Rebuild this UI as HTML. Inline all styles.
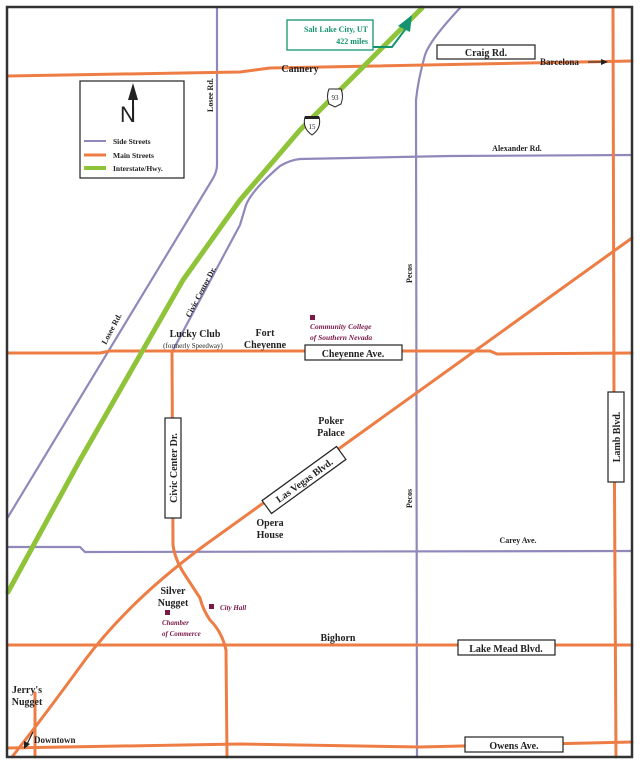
<!DOCTYPE html>
<html><head><meta charset="utf-8"><style>
body{margin:0;background:#fff}
svg{display:block}
text{font-family:"Liberation Serif",serif;font-weight:bold;fill:#222}
</style></head><body>
<svg width="640" height="768" viewBox="0 0 640 768" xmlns="http://www.w3.org/2000/svg">
<rect x="0" y="0" width="640" height="768" fill="#fff"/>
<g fill="none" stroke-linejoin="round" stroke-linecap="round">
<!-- side streets purple -->
<g stroke="#8f88bb" stroke-width="2.2">
<path d="M217,8 L217,165 Q217,172 212,180 L8,517"/>
<path d="M632,155 L450,156 L300,159 Q290,160 280,166 Q252,190 246,205 Q243,215 240,225 L172,352"/>
<path d="M460,8 Q430,40 425,55 Q418,80 416,100 L417,757"/>
<path d="M8,547 L80,547 L85,552 L632,551"/>
</g>
<!-- main streets orange -->
<g stroke="#ee7d45" stroke-width="3">
<path d="M8,76 L240,72 L270,68 L632,61"/>
<path d="M613,8 L614,400 L616,757"/>
<path d="M8,353 L100,353 L110,351 L490,351 L497,354 L632,353"/>
<path d="M172,353 L173,545 Q175,560 185,575 L200,598 Q203,610 210,620 Q222,632 226,650 L227,757"/>
<path d="M632,238 L205,545 Q130,600 85,660 Q45,715 12,757"/>
<path d="M8,645 L632,645"/>
<path d="M8,748 L240,744 L420,747 L632,742"/>
<path d="M35,693 L35,757"/>
</g>
<!-- interstate -->
<path d="M422,8 L300,130 L240,200 L183,280 L80,460 L8,592" stroke="#8fc43a" stroke-width="5"/>
</g>
<!-- frame -->
<rect x="7" y="7" width="625" height="750" fill="none" stroke="#333" stroke-width="2.5"/>

<!-- SLC box -->
<rect x="287" y="20" width="86" height="30" fill="#fff" stroke="#14946e" stroke-width="1.3"/>
<text x="368" y="32" font-size="8" text-anchor="end" style="fill:#14946e">Salt Lake City, UT</text>
<text x="368" y="44" font-size="8" text-anchor="end" style="fill:#14946e">422 miles</text>
<path d="M373,47 L392,47 L407,27" fill="none" stroke="#14946e" stroke-width="2"/>
<polygon points="412,15 398,26 410,32" fill="#14946e"/>

<!-- legend -->
<rect x="80" y="81" width="104" height="97" fill="#fff" stroke="#222" stroke-width="1.2"/>
<text x="120" y="122" font-size="22" style="font-weight:normal;font-family:'Liberation Sans',sans-serif">N</text>
<line x1="133" y1="122" x2="133" y2="95" stroke="#222" stroke-width="2"/>
<polygon points="133,83 128,100 138,100" fill="#222"/>
<line x1="84" y1="141" x2="106" y2="141" stroke="#8f88bb" stroke-width="2"/>
<line x1="84" y1="155" x2="106" y2="155" stroke="#ee7d45" stroke-width="3"/>
<line x1="84" y1="168" x2="106" y2="168" stroke="#8fc43a" stroke-width="4"/>
<text x="113" y="144" font-size="7.5">Side Streets</text>
<text x="113" y="158" font-size="7.5">Main Streets</text>
<text x="113" y="171" font-size="7.5">Interstate/Hwy.</text>

<!-- shields -->
<path d="M329,89 L341,89 Q344,96 341,104 L335,107 L329,104 Q326,96 329,89 Z" fill="#fff" stroke="#222" stroke-width="1"/>
<text x="335" y="100" font-size="7" text-anchor="middle" style="font-weight:normal">93</text>
<path d="M305,117 L319,117 Q322,128 312,135 Q302,128 305,117 Z" fill="#fff" stroke="#222" stroke-width="1"/>
<rect x="305" y="116" width="14" height="3" fill="#222"/>
<text x="312" y="129" font-size="7" text-anchor="middle" style="font-weight:normal">15</text>

<!-- label boxes -->
<rect x="437" y="45" width="98" height="14" fill="#fff" stroke="#222" stroke-width="1.2"/>
<text x="486" y="56" font-size="10" text-anchor="middle">Craig Rd.</text>
<rect x="305" y="345" width="97" height="15" fill="#fff" stroke="#222" stroke-width="1.2"/>
<text x="353" y="357" font-size="10" text-anchor="middle">Cheyenne Ave.</text>
<rect x="458" y="640" width="97" height="15" fill="#fff" stroke="#222" stroke-width="1.2"/>
<text x="506" y="652" font-size="10" text-anchor="middle">Lake Mead Blvd.</text>
<rect x="465" y="737" width="98" height="15" fill="#fff" stroke="#222" stroke-width="1.2"/>
<text x="514" y="749" font-size="10" text-anchor="middle">Owens Ave.</text>
<g transform="translate(173,468) rotate(-90)">
<rect x="-50" y="-8" width="100" height="16" fill="#fff" stroke="#222" stroke-width="1.2"/>
<text x="0" y="4" font-size="10" text-anchor="middle">Civic Center Dr.</text></g>
<g transform="translate(616,437) rotate(-90)">
<rect x="-45" y="-8" width="90" height="16" fill="#fff" stroke="#222" stroke-width="1.2"/>
<text x="0" y="4" font-size="10" text-anchor="middle">Lamb Blvd.</text></g>
<g transform="translate(304,480) rotate(-36)">
<rect x="-46" y="-8" width="92" height="16" fill="#fff" stroke="#222" stroke-width="1.2"/>
<text x="0" y="4" font-size="10" text-anchor="middle">Las Vegas Blvd.</text></g>

<!-- rotated street labels -->
<text transform="translate(213,112) rotate(-90)" font-size="8">Losee Rd.</text>
<text transform="translate(106,345) rotate(-62)" font-size="8">Losee Rd.</text>
<text transform="translate(190,318) rotate(-62)" font-size="8">Civic Center Dr.</text>
<text transform="translate(412,283) rotate(-90)" font-size="8">Pecos</text>
<text transform="translate(412,508) rotate(-90)" font-size="8">Pecos</text>

<!-- places -->
<text x="300" y="72" font-size="10" text-anchor="middle">Cannery</text>
<text x="540" y="65" font-size="9">Barcelona</text>
<line x1="588" y1="62" x2="604" y2="62" stroke="#222" stroke-width="1"/>
<polygon points="608,62 601,59 601,65" fill="#222"/>
<text x="517" y="151" font-size="8" text-anchor="middle">Alexander Rd.</text>
<text x="195" y="337" font-size="10" text-anchor="middle">Lucky Club</text>
<text x="193" y="348" font-size="7" text-anchor="middle" style="font-weight:normal">(formerly Speedway)</text>
<text x="265" y="336" font-size="10" text-anchor="middle">Fort</text>
<text x="265" y="348" font-size="10" text-anchor="middle">Cheyenne</text>
<rect x="310" y="315" width="5" height="5" fill="#7a1848"/>
<text x="310" y="329" font-size="7.5" style="fill:#7a1848;font-style:italic">Community College</text>
<text x="310" y="340" font-size="7.5" style="fill:#7a1848;font-style:italic">of Southern Nevada</text>
<text x="331" y="424" font-size="10" text-anchor="middle">Poker</text>
<text x="331" y="436" font-size="10" text-anchor="middle">Palace</text>
<text x="270" y="526" font-size="10" text-anchor="middle">Opera</text>
<text x="270" y="538" font-size="10" text-anchor="middle">House</text>
<text x="518" y="543" font-size="8" text-anchor="middle">Carey Ave.</text>
<text x="173" y="594" font-size="10" text-anchor="middle">Silver</text>
<text x="173" y="606" font-size="10" text-anchor="middle">Nugget</text>
<rect x="165" y="610" width="5" height="5" fill="#7a1848"/>
<text x="162" y="625" font-size="7" style="fill:#7a1848;font-style:italic">Chamber</text>
<text x="162" y="636" font-size="7" style="fill:#7a1848;font-style:italic">of Commerce</text>
<rect x="209" y="604" width="5" height="5" fill="#7a1848"/>
<text x="220" y="610" font-size="7" style="fill:#7a1848;font-style:italic">City Hall</text>
<text x="338" y="641" font-size="10" text-anchor="middle">Bighorn</text>
<text x="27" y="693" font-size="10" text-anchor="middle">Jerry's</text>
<text x="27" y="705" font-size="10" text-anchor="middle">Nugget</text>
<text x="34" y="743" font-size="9">Downtown</text>
<line x1="33" y1="732" x2="27" y2="744" stroke="#222" stroke-width="1.2"/>
<polygon points="24,749 24,741 30,744" fill="#222"/>
</svg>
</body></html>
